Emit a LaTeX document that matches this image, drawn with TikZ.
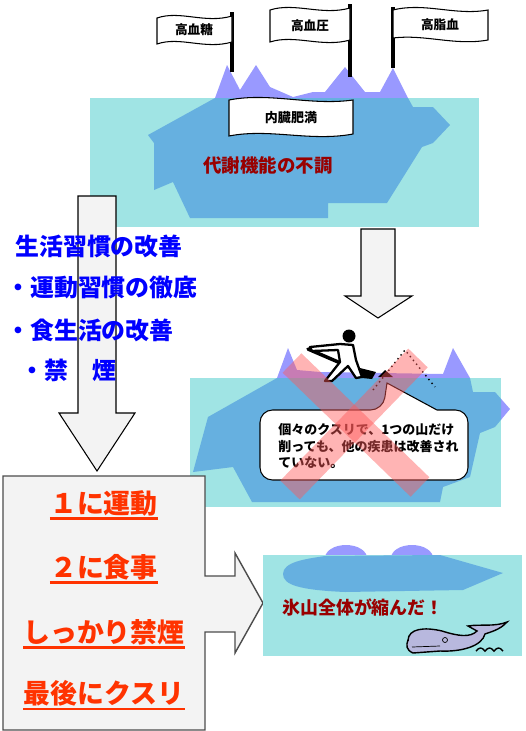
\documentclass[tikz,border=0pt]{standalone}
\usepackage{fontspec}
\newfontfamily\jp{Noto Sans CJK JP}
\definecolor{seacyan}{RGB}{160,228,228}
\definecolor{iceblue}{RGB}{102,176,224}
\definecolor{icelilac}{RGB}{153,153,255}
\definecolor{kanjired}{RGB}{153,0,0}
\definecolor{habitblue}{RGB}{0,0,255}
\definecolor{ruleorange}{RGB}{255,51,0}
\definecolor{arrowgray}{RGB}{243,243,243}
\definecolor{whalebody}{RGB}{184,184,222}
\begin{document}
\begin{tikzpicture}[x=0.02cm,y=-0.02cm,
    every node/.style={inner sep=0pt},
    water/.style={fill=seacyan},
    blockarrow/.style={draw=black,fill=arrowgray,line width=0.6pt},
    cloth/.style={draw,fill=white,line width=0.6pt},
    pole/.style={line width=1.8pt},
    flagtext/.style={font=\jp\bfseries\fontsize{7.2}{8}\selectfont},
    habit/.style={anchor=west,text=habitblue,font=\jp\bfseries\fontsize{13.6}{15}\selectfont},
    rule/.style={text=ruleorange,font=\jp\bfseries\fontsize{15.3}{17}\selectfont},
    underl/.style={draw=ruleorange,line width=1.6pt},
    cross/.style={line width=0.54cm,draw=red!65,draw opacity=0.45},
    %% iceberg outlines, purple above the waterline and blue below
    upperberg/.style={insert path={(148,135) -- (215,98) -- (227,65) -- (240,90) -- (256,65)
        -- (270,87) -- (293,97) -- (313,92) -- (325,92) -- (345,67) -- (365,92) -- (380,92)
        -- (393,68) -- (408,98) -- (413,107) -- (433,107) -- (450,125) -- (433,143) -- (422,147)
        -- (387,203) -- (328,203) -- (328,218) -- (190,218) -- (173,182) -- (154,190)
        -- (154,143) -- cycle}},
    middleberg/.style={insert path={(208,417) -- (277,378) -- (288,348) -- (297,370) -- (320,372)
        -- (443,374) -- (453,348) -- (470,378) -- (473,392) -- (495,392) -- (510,409)
        -- (495,427) -- (480,433) -- (470,477) -- (443,487) -- (440,502) -- (252,502)
        -- (233,467) -- (193,472) -- cycle}}]
\useasboundingbox (0,0) rectangle (525,731);

%% upper iceberg
\fill[icelilac,upperberg];
\fill[water] (90,98) rectangle (479,227);
\begin{scope}
  \clip (90,98) rectangle (479,227);
  \fill[iceblue,upperberg];
\end{scope}

%% flags on the peaks
\draw[pole] (232,12) -- (232,72);
\draw[cloth] (157,18) .. controls (180,10) and (205,24) .. (232,16) -- (232,42)
  .. controls (205,50) and (180,36) .. (157,44) -- cycle;
\node[flagtext] (sugar) at (194,30) {高血糖};
\draw[pole] (350,4) -- (350,77);
\draw[cloth] (270,10) .. controls (295,2) and (322,16) .. (350,8) -- (350,40)
  .. controls (322,48) and (295,34) .. (270,42) -- cycle;
\node[flagtext] (pressure) at (310,26) {高血圧};
\draw[pole] (393,7) -- (393,68);
\draw[cloth] (393,10) .. controls (425,2) and (455,16) .. (488,10) -- (488,40)
  .. controls (455,46) and (425,34) .. (393,38) -- cycle;
\node[flagtext] (lipid) at (440,25) {高脂血};
\draw[cloth] (229,100) .. controls (270,92) and (310,106) .. (353,100) -- (353,134)
  .. controls (310,142) and (270,128) .. (229,136) -- cycle;
\node[flagtext,font=\jp\bfseries\fontsize{7.4}{8}\selectfont] (visceral) at (291,118) {内臓肥満};
\node[text=kanjired,font=\jp\bfseries\fontsize{10.5}{12}\selectfont] (metab) at (268,165) {代謝機能の不調};

%% way of living, long arrow down
\draw[blockarrow] (78,196) -- (116,196) -- (116,413) -- (135,413) -- (97,471) -- (59,413)
  -- (78,413) -- cycle;
\node[habit] (habits) at (15,246) {生活習慣の改善};
\node[habit] (exercise) at (6,288) {・運動習慣の徹底};
\node[habit] (diet) at (6,330) {・食生活の改善};
\node[habit] (smoking) at (20,370) {・禁　煙};

%% short arrow to the medicine case
\draw[blockarrow] (361,229) -- (395,229) -- (395,296) -- (412,296) -- (378,318) -- (345,296)
  -- (361,296) -- cycle;

%% middle iceberg
\fill[icelilac,middleberg];
\fill[water] (190,378) rectangle (501,507);
\begin{scope}
  \clip (190,378) rectangle (501,507);
  \fill[iceblue,middleberg];
\end{scope}
\draw[dotted,thick] (373,390) -- (405,350) -- (435,387);
%% man with the shovel
\draw[line width=2pt,line cap=round] (308,349) -- (366,374);
\fill (360,368) -- (376,372) -- (372,379) -- (362,378) -- cycle;
\fill (378,377) -- (385,370) -- (393,377) -- cycle;
\draw[line width=1.3pt,fill=white,line join=round] (340,344) -- (310,347) -- (312,351)
  -- (338,350) -- (340,362) -- (325,381) -- (332,381) -- (348,366) -- (356,378)
  -- (362,377) -- (356,360) -- (353,345) -- cycle;
\fill (349,336) circle (6.5);

%% speech bubble
\draw[fill=white,line width=0.6pt,rounded corners=0.25cm] (260,410) -- (383,410)
  [sharp corners] -- (387,383) -- (437,410) [rounded corners=0.25cm] -- (468,410)
  -- (468,480) -- (260,480) -- cycle;
\node[anchor=west,align=left,font=\jp\bfseries\fontsize{7.4}{9.6}\selectfont] (bubble) at (278,446)
  {個々のクスリで、1つの山だけ\\削っても、他の疾患は改善され\\ていない。};
\draw[cross] (292,363) -- (420,487);
\draw[cross] (418,358) -- (290,490);

%% what to do, box with arrow to the right
\draw[draw=gray!60!black,fill=arrowgray,line width=0.8pt] (3,476) -- (205,476) -- (205,576)
  -- (235,576) -- (235,553) -- (263,603) -- (235,653) -- (235,632) -- (205,632) -- (205,730)
  -- (3,730) -- cycle;
\node[rule] (first) at (104,503) {１に運動};
\node[rule] (second) at (104,567) {２に食事};
\node[rule] (third) at (104,632) {しっかり禁煙};
\node[rule] (last) at (104,693) {最後にクスリ};
\foreach \n in {first,second,third,last}
  \draw[underl] ([yshift=-1.5pt]\n.south west) -- ([yshift=-1.5pt]\n.south east);

%% shrunken iceberg
\fill[icelilac] (346,558) ellipse (21 and 13);
\fill[icelilac] (412,558) ellipse (21 and 13);
\fill[water] (263,555) rectangle (522,656);
\fill[iceblue] (283,574) .. controls (283,562) and (305,559) .. (325,556) -- (440,555)
  -- (503,573) -- (463,590) -- (345,592) .. controls (300,590) and (283,585) .. (283,574);
\node[anchor=west,text=kanjired,font=\jp\bfseries\fontsize{10.2}{12}\selectfont] (shrunk) at (282,607)
  {氷山全体が縮んだ！};
%% whale
\draw[thick,fill=whalebody] (408,641) .. controls (408,628) and (425,627) .. (442,631)
  .. controls (458,636) and (470,638) .. (477,631) -- (468,626) .. controls (480,624) and (495,627) .. (507,622)
  .. controls (500,630) and (490,632) .. (485,634) .. controls (482,646) and (462,652) .. (440,651)
  -- (413,653) .. controls (406,650) and (406,645) .. (408,640) -- cycle;
\draw (412,647) -- (440,646);
\draw (445,640) circle (2.5);
\draw[thick] (476,651) .. controls (479,647) and (482,647) .. (485,651)
  .. controls (488,647) and (491,647) .. (494,651) .. controls (497,647) and (500,647) .. (503,651);
\end{tikzpicture}
\end{document}
